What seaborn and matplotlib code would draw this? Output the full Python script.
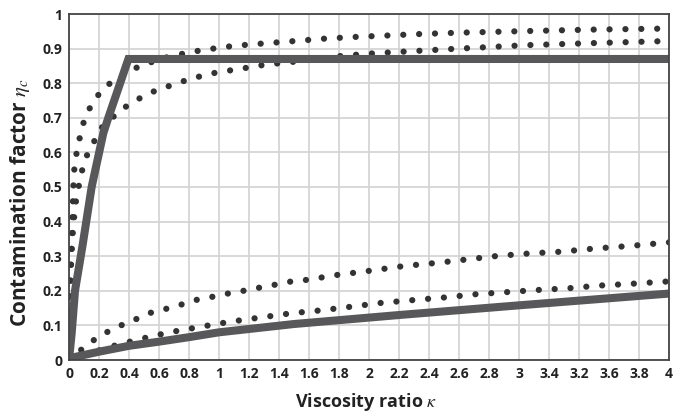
import matplotlib
matplotlib.use("Agg")
import matplotlib.pyplot as plt
import seaborn as sns
import pandas as pd

# ---- data ----
a_x = [0, 0.006, 0.012, 0.018, 0.021, 0.024, 0.027, 0.030, 0.036, 0.051, 0.073, 0.100, 0.147,
       0.218, 0.300, 0.402, 0.491, 0.684, 0.891, 1.10, 1.30, 1.51, 1.71, 1.92, 2.13, 2.33,
       2.60, 3.08, 3.50, 4.00]
a_y = [0, 0.18, 0.27, 0.33, 0.38, 0.43, 0.47, 0.51, 0.556, 0.600, 0.645, 0.691, 0.736,
       0.780, 0.809, 0.835, 0.853, 0.879, 0.896, 0.908, 0.915, 0.922, 0.929, 0.934, 0.938, 0.942,
       0.946, 0.951, 0.955, 0.958]

b_x = [0, 0.006, 0.013, 0.020, 0.033, 0.044, 0.062, 0.084, 0.118, 0.169, 0.229, 0.318, 0.402,
       0.491, 0.584, 0.689, 0.784, 0.884, 0.984, 1.09, 1.19, 1.30, 1.50, 1.82, 2.02, 2.22,
       2.60, 3.05, 3.50, 4.00]
b_y = [0, 0.18, 0.27, 0.34, 0.407, 0.453, 0.496, 0.543, 0.590, 0.633, 0.679, 0.711, 0.740,
       0.761, 0.780, 0.795, 0.809, 0.821, 0.831, 0.838, 0.845, 0.853, 0.862, 0.879, 0.886, 0.891,
       0.900, 0.910, 0.916, 0.922]

c_x = [0, 0.085, 0.173, 0.267, 0.367, 0.447, 0.54, 0.64, 0.74, 0.84, 0.929, 1.03, 1.13, 1.24,
       1.34, 1.44, 1.54, 1.64, 1.74, 1.84, 1.94, 2.04, 2.24, 2.46, 2.66, 2.86, 3.07, 3.28,
       3.50, 3.75, 4.00]
c_y = [0, 0.031, 0.060, 0.084, 0.104, 0.118, 0.136, 0.147, 0.159, 0.173, 0.180, 0.190, 0.197,
       0.207, 0.214, 0.225, 0.229, 0.235, 0.243, 0.249, 0.254, 0.260, 0.272, 0.281, 0.291,
       0.301, 0.308, 0.313, 0.322, 0.330, 0.340]

d_x = [0, 0.273, 0.469, 0.669, 0.878, 1.08, 1.28, 1.48, 1.69, 1.88, 2.08, 2.29, 2.51, 2.71,
       2.91, 3.11, 3.32, 3.53, 3.74, 3.95, 4.00]
d_y = [0, 0.038, 0.060, 0.080, 0.096, 0.111, 0.123, 0.135, 0.144, 0.154, 0.165, 0.173, 0.181,
       0.190, 0.196, 0.202, 0.207, 0.215, 0.220, 0.226, 0.227]

s1_x = [0, 0.018, 0.040, 0.090, 0.151, 0.229, 0.262, 0.396, 4.00]
s1_y = [0, 0.078, 0.200, 0.330, 0.500, 0.656, 0.700, 0.870, 0.870]

s2_x = [0, 0.2, 0.4, 0.6, 0.8, 1.0, 1.5, 2.2, 2.6, 3.0, 3.5, 4.0]
s2_y = [0.005, 0.024, 0.041, 0.053, 0.066, 0.080, 0.104, 0.130, 0.144, 0.158, 0.175, 0.192]

x_ticks = [0, 0.2, 0.4, 0.6, 0.8, 1.0, 1.2, 1.4, 1.6, 1.8, 2.0, 2.2, 2.4, 2.6, 2.8, 3.0,
           3.2, 3.4, 3.6, 3.8, 4.0]
x_tick_labels = ["0", "0.2", "0.4", "0.6", "0.8", "1", "1.2", "1.4", "1.6", "1.8", "2",
                 "2.2", "2.4", "2.6", "2.8", "3", "3.4", "3.2", "3.6", "3.8", "4"]
y_ticks = [0, 0.1, 0.2, 0.3, 0.4, 0.5, 0.6, 0.7, 0.8, 0.9, 1.0]
y_tick_labels = ["0", "0.1", "0.2", "0.3", "0.4", "0.5", "0.6", "0.7", "0.8", "0.9", "1"]

# ---- style ----
sns.set_style("white")
plt.rcParams["font.family"] = ["Open Sans", "DejaVu Sans"]
plt.rcParams["mathtext.fontset"] = "stix"

fig = plt.figure(figsize=(6.84, 4.18), dpi=100)
ax = fig.add_axes([69 / 684, 58 / 418, 600 / 684, 346 / 418])

dot_color = "#333333"
solid_color = "#58585a"

for xs, ys in [(a_x, a_y), (b_x, b_y), (c_x, c_y), (d_x, d_y)]:
    df = pd.DataFrame({"x": xs, "y": ys})
    sns.lineplot(data=df, x="x", y="y", ax=ax, color=dot_color, linewidth=4.5,
                 linestyle=(0, (0.01, 2.53)), dash_capstyle="round", sort=False,
                 estimator=None, zorder=3)

for xs, ys in [(s1_x, s1_y), (s2_x, s2_y)]:
    df = pd.DataFrame({"x": xs, "y": ys})
    sns.lineplot(data=df, x="x", y="y", ax=ax, color=solid_color, linewidth=5.8,
                 solid_joinstyle="miter", solid_capstyle="butt", sort=False,
                 estimator=None, zorder=4)

ax.set_xlim(0, 4)
ax.set_ylim(0, 1)
ax.set_xticks(x_ticks)
ax.set_xticklabels(x_tick_labels)
ax.set_yticks(y_ticks)
ax.set_yticklabels(y_tick_labels)
ax.tick_params(axis="both", length=0, labelsize=10, labelcolor="#222222", pad=5)
for lab in ax.get_xticklabels() + ax.get_yticklabels():
    lab.set_fontweight("bold")

ax.grid(True, color="#d2d2d2", linewidth=1.2, zorder=0)
ax.set_axisbelow(True)
for sp in ax.spines.values():
    sp.set_visible(True)
    sp.set_color("#444444")
    sp.set_linewidth(1.3)
    sp.set_zorder(5)

ax.set_xlabel(r"Viscosity ratio $\kappa$", fontsize=13, fontweight="bold",
              color="#222222", va="center")
ax.set_ylabel(r"Contamination factor $\eta_c$", fontsize=15, fontweight="bold",
              color="#222222", va="center")
ax.xaxis.set_label_coords(0.496, -0.121)
ax.yaxis.set_label_coords(-0.082, 0.456)

fig.savefig("out.png", dpi=100)
